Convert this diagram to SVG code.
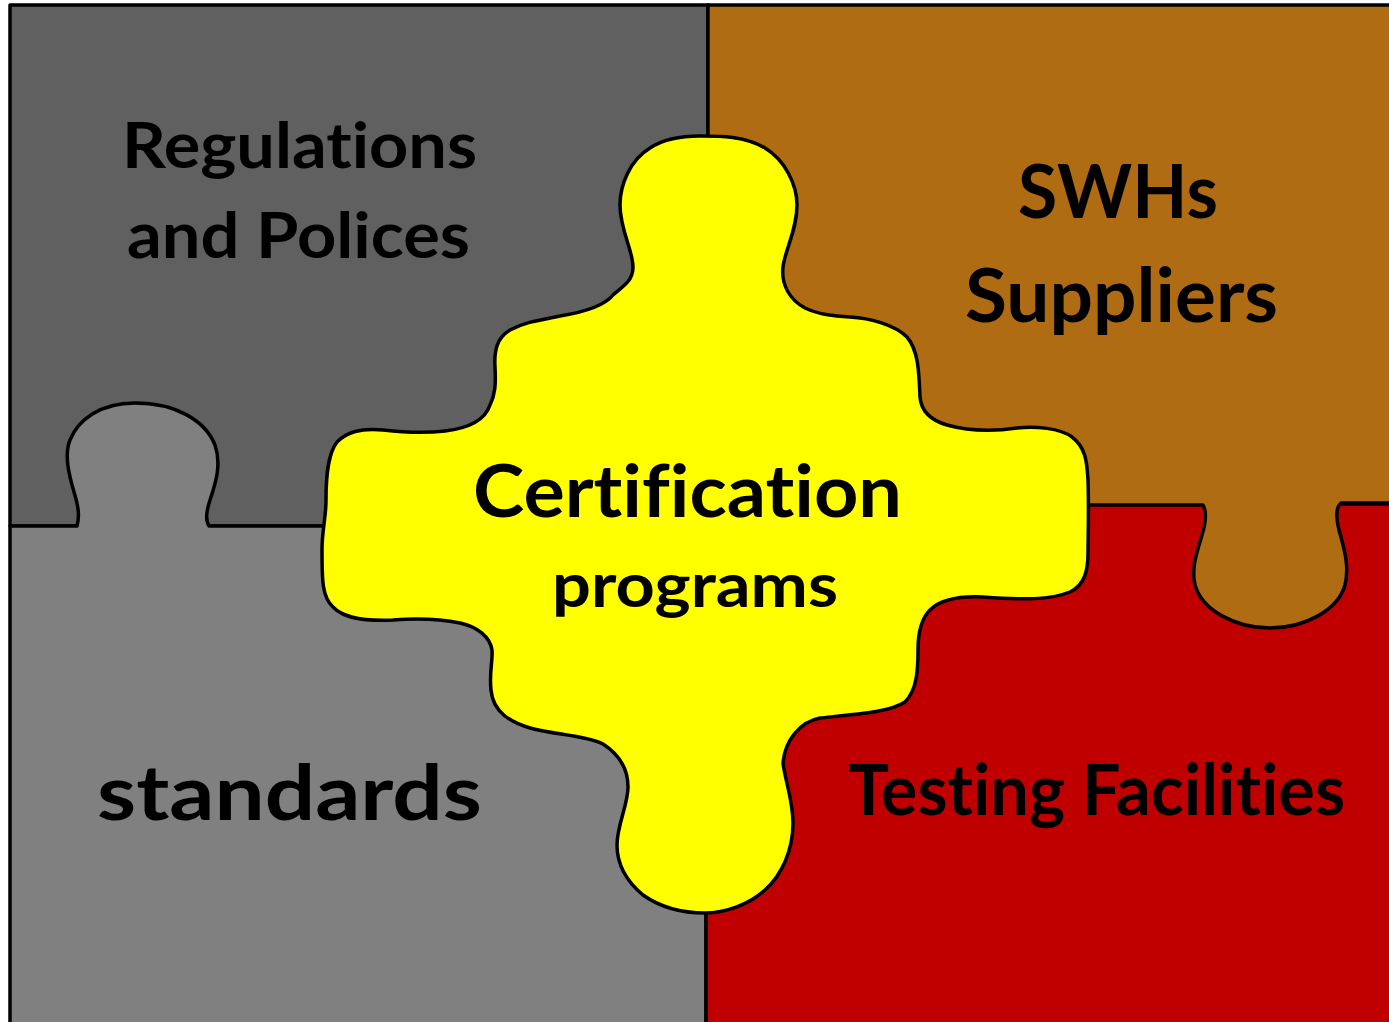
<svg xmlns="http://www.w3.org/2000/svg" width="1389" height="1022" viewBox="0 0 1389 1022">
<style>
.piece{stroke:#000;stroke-width:3.5;stroke-linejoin:round}
.lbl{font-family:Lato,"Open Sans","Liberation Sans",sans-serif;font-weight:bold;fill:#000;text-anchor:middle;font-variant-ligatures:none;font-feature-settings:"liga" 0,"clig" 0}
</style>
<rect width="1389" height="1022" fill="#fff"/>
<g id="regulations">
<rect class="piece" x="10" y="5" width="698" height="521" fill="#606060"/>
<text class="lbl" x="299.5" y="168" font-size="64" textLength="355" lengthAdjust="spacingAndGlyphs">Regulations</text>
<text class="lbl" x="298.5" y="258" font-size="64" textLength="343" lengthAdjust="spacingAndGlyphs">and Polices</text>
</g>
<g id="standards">
<path class="piece" fill="#808080" d="M10,526 L77,526 C80,515 78,505 74,492 C69,475 64,455 70,440 C78,420 100,403 135,403 C175,403 205,420 215,445 C222,465 215,485 210,500 C206,512 205,520 209,526 L706,526 L706,1026 L10,1026 Z"/>
<text class="lbl" x="289.5" y="820" font-size="76" textLength="385" lengthAdjust="spacingAndGlyphs">standards</text>
</g>
<g id="testing">
<rect class="piece" x="706" y="504" width="690" height="525" fill="#C00000"/>
<text class="lbl" x="1096.5" y="815" font-size="70" textLength="497" lengthAdjust="spacingAndGlyphs">Testing Facilities</text>
</g>
<g id="suppliers">
<path class="piece" fill="#B06C12" d="M708,5 L1393,5 L1393,503 L1341,503 C1335,508 1336,518 1339,530 C1343,545 1350,565 1345,585 C1338,610 1305,628 1270,628 C1235,628 1202,610 1195,585 C1191,568 1197,552 1202,535 C1206,522 1207,512 1203,505 L708,505 Z"/>
<text class="lbl" x="1118" y="218" font-size="74" textLength="200" lengthAdjust="spacingAndGlyphs">SWHs</text>
<text class="lbl" x="1121.5" y="322" font-size="74" textLength="313" lengthAdjust="spacingAndGlyphs">Suppliers</text>
</g>
<g id="certification">
<path class="piece" fill="#FFFF00" d="M700,136 C720,136 745,136 765,148 C785,160 797,185 797,205 C797,230 785,250 783,267 C781,285 790,300 805,308 C820,315 835,316 850,317 C870,318 895,325 907,337 C918,350 919,370 920,397 C921,410 930,420 947,425 C965,430 990,432 1017,428 C1035,426 1060,428 1072,437 C1085,447 1087,460 1088,480 C1089,510 1088,540 1088,553 C1088,570 1085,585 1070,592 C1050,600 1025,600 983,597 C960,596 940,600 930,610 C920,620 918,635 918,650 C918,670 917,690 905,702 C890,712 860,714 820,718 C800,722 785,740 783,763 C785,780 793,800 793,823 C793,850 782,875 765,890 C748,905 725,913 705,913 C682,913 660,907 643,895 C625,880 617,862 617,845 C617,825 628,805 628,787 C628,770 620,755 603,744 C585,735 555,735 530,728 C510,722 493,712 491,690 C489,672 493,660 492,650 C490,637 478,627 460,623 C440,619 420,618 393,620 C370,621 345,620 333,607 C322,597 322,580 322,550 C322,530 326,518 326,500 C326,480 327,455 337,442 C347,432 360,428 383,430 C400,432 420,434 445,431 C470,428 485,420 490,405 C495,395 496,385 495,367 C494,350 497,338 510,330 C525,322 540,320 560,316 C585,312 605,305 613,295 C625,285 633,280 633,267 C633,250 620,230 620,205 C620,185 630,160 650,148 C665,138 685,136 700,136 Z"/>
<text class="lbl" x="687.5" y="517" font-size="72" textLength="429" lengthAdjust="spacingAndGlyphs">Certification</text>
<text class="lbl" x="695" y="607" font-size="62" textLength="286" lengthAdjust="spacingAndGlyphs">programs</text>
</g>
<g id="connectors"/>
</svg>
